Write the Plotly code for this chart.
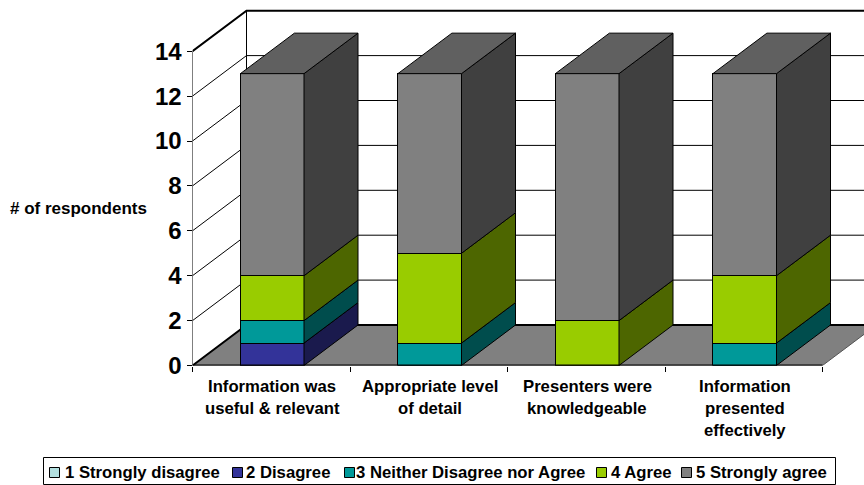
import plotly.graph_objects as go

categories = ["Information was\nuseful & relevant", "Appropriate level\nof detail",
              "Presenters were\nknowledgeable", "Information\npresented\neffectively"]
series_names = ["1 Strongly disagree", "2 Disagree", "3 Neither Disagree nor Agree", "4 Agree", "5 Strongly agree"]
s1 = [0, 0, 0, 0]
s2 = [1, 0, 0, 0]
s3 = [1, 1, 0, 1]
s4 = [2, 4, 2, 3]
s5 = [9, 8, 11, 9]
series_values = [s1, s2, s3, s4, s5]
y_ticks = [0, 2, 4, 6, 8, 10, 12, 14]

front_colors = ["#B3E0E0", "#333399", "#009999", "#99CC00", "#808080"]
side_colors = ["#668080", "#1A1A4D", "#004D4D", "#4D6600", "#404040"]
top_color = "#606060"
floor_color = "#808080"

W, H = 864, 485
X0, Y0 = 192.5, 365.5     # pixel of the axis origin
CAT_W, UNIT = 157.5, 22.45
DX = 54 / CAT_W           # depth offset, in axis units
DY = 40.5 / UNIT
BAR_W = 0.404
BAR_SHIFT = 0.006
TEXT_SIZE = 16.7
x_max = (W - X0) / CAT_W
y_max = Y0 / UNIT
n = len(categories)
xs = [i + 0.5 + BAR_SHIFT for i in range(n)]


def px(x):
    return x / W


def py(y):
    return 1 - y / H


fig = go.Figure()
shapes = []
annotations = []

# floor
shapes.append(dict(type="path", layer="below", xref="x", yref="y",
                   path=f"M0,0 L{DX},{DY} L{n + DX},{DY} L{n},0 Z",
                   fillcolor=floor_color, line=dict(color="#555555", width=1)))
# back wall and gridlines
for v in y_ticks:
    lw = 2 if v in (0, 14) else 1
    shapes.append(dict(type="path", layer="below", xref="x", yref="y",
                       path=f"M0,{v} L{DX},{v + DY} L{x_max + 1},{v + DY}",
                       line=dict(color="black", width=lw)))
shapes.append(dict(type="line", layer="below", xref="x", yref="y", x0=DX, x1=DX,
                   y0=DY, y1=14 + DY, line=dict(color="black", width=1)))

# front faces
for name, vals, col in zip(series_names, series_values, front_colors):
    fig.add_trace(go.Bar(x=xs, y=vals, name=name, width=BAR_W, marker=dict(color=col, line=dict(color="black", width=1)),
                         showlegend=False, hoverinfo="skip"))

# side and top faces
for i, x in enumerate(xs):
    base = 0
    right = x + BAR_W / 2
    for vals, col in zip(series_values, side_colors):
        v = vals[i]
        if v > 0:
            fig.add_trace(go.Scatter(
                x=[right, right + DX, right + DX, right, right],
                y=[base, base + DY, base + v + DY, base + v, base],
                mode="lines", fill="toself", fillcolor=col, line=dict(color="black", width=1),
                showlegend=False, hoverinfo="skip"))
        base += v
    left = x - BAR_W / 2
    fig.add_trace(go.Scatter(
        x=[left, left + DX, right + DX, right, left],
        y=[base, base + DY, base + DY, base, base],
        mode="lines", fill="toself", fillcolor=top_color, line=dict(color="black", width=1),
        showlegend=False, hoverinfo="skip"))

# axis lines
fig.add_trace(go.Scatter(x=[0, 0], y=[0, y_ticks[-1]], mode="lines", line=dict(color="black", width=1),
                         cliponaxis=False, showlegend=False, hoverinfo="skip"))
fig.add_trace(go.Scatter(x=[0, n], y=[0, 0], mode="lines", line=dict(color="black", width=2),
                         cliponaxis=False, showlegend=False, hoverinfo="skip"))

# category labels, one annotation per line
for x, cat in zip(xs, categories):
    for j, line in enumerate(cat.split("\n")):
        annotations.append(dict(x=x, xref="x", y=py(386 + 22 * j), yref="paper", text=f"<b>{line}</b>",
                                showarrow=False, xanchor="center", yanchor="middle",
                                font=dict(family="Liberation Sans", size=TEXT_SIZE, color="black")))

annotations.append(dict(x=px(8), y=py(208), xref="paper", yref="paper", text="<b># of respondents</b>",
                        showarrow=False, xanchor="left", yanchor="middle",
                        font=dict(family="Liberation Sans", size=17, color="black")))

# legend
shapes.append(dict(type="rect", xref="paper", yref="paper", x0=px(43.5), x1=px(835.5), y0=py(457.5), y1=py(484.5),
                   line=dict(color="black", width=1), fillcolor="white"))
legend_swatch_x = [49.5, 232.5, 344.5, 596.5, 681.5]
legend_text_x = [63, 244, 354, 609, 694]
for name, col, sx, tx in zip(series_names, front_colors, legend_swatch_x, legend_text_x):
    shapes.append(dict(type="rect", xref="paper", yref="paper", x0=px(sx), x1=px(sx + 10), y0=py(467.5), y1=py(477.5),
                       line=dict(color="black", width=1), fillcolor=col))
    annotations.append(dict(x=px(tx), y=py(472), xref="paper", yref="paper", text=f"<b>{name}</b>",
                            showarrow=False, xanchor="left", yanchor="middle",
                            font=dict(family="Liberation Sans", size=TEXT_SIZE, color="black")))

fig.update_layout(
    width=W, height=H, barmode="stack", paper_bgcolor="white", plot_bgcolor="white",
    margin=dict(l=0, r=0, t=0, b=0, pad=0), shapes=shapes, annotations=annotations, showlegend=False,
    xaxis=dict(domain=[X0 / W, 1], range=[0, x_max], showgrid=False, zeroline=False, showline=False, automargin=False,
               tickmode="array", tickvals=list(range(n + 1)), ticktext=[""] * (n + 1),
               ticks="outside", ticklen=5, tickcolor="black", tickwidth=1),
    yaxis=dict(domain=[1 - Y0 / H, 1], range=[0, y_max], showgrid=False, zeroline=False, showline=False, automargin=False,
               tickmode="array", tickvals=y_ticks, ticks="outside", ticklen=5, tickcolor="black", tickwidth=1,
               tickfont=dict(family="Liberation Sans", size=24, color="black", weight="bold")),
)
fig.write_html("out.html", config=dict(displayModeBar=False), post_script="document.body.style.margin='0';")
